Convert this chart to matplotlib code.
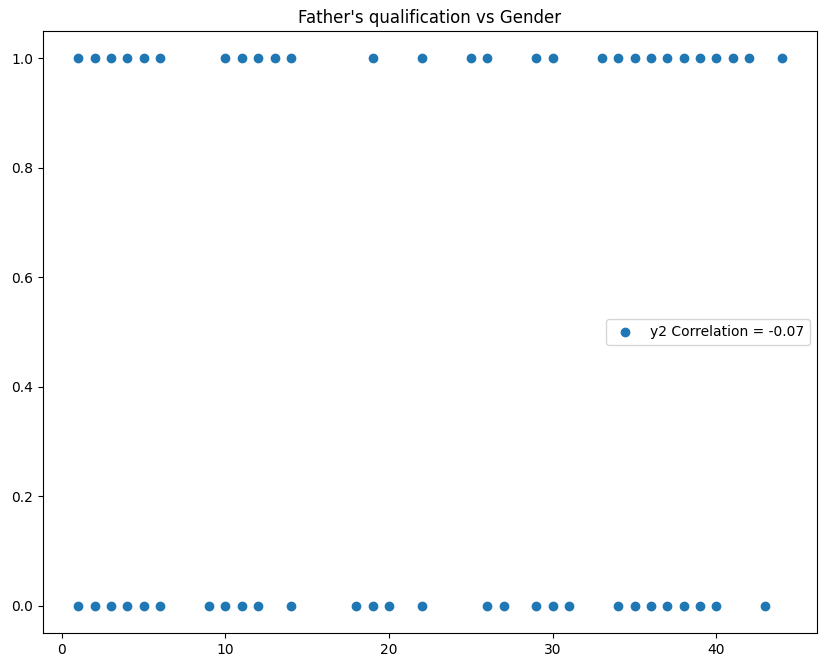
import matplotlib
matplotlib.use('Agg')
import matplotlib.pyplot as plt

# father's qualification codes observed for each gender
qual_gender1 = [1, 2, 3, 4, 5, 6, 10, 11, 12, 13, 14, 19, 22, 25, 26, 29, 30,
                33, 34, 35, 36, 37, 38, 39, 40, 41, 42, 44]
qual_gender0 = [1, 2, 3, 4, 5, 6, 9, 10, 11, 12, 14, 18, 19, 20, 22, 26, 27,
                29, 30, 31, 34, 35, 36, 37, 38, 39, 40, 43]

x = qual_gender1 + qual_gender0
y = [1] * len(qual_gender1) + [0] * len(qual_gender0)

fig = plt.figure(figsize=(8.26, 6.68), dpi=100)
ax = fig.add_axes([43 / 826, 1 - 633 / 668, 774 / 826, 602 / 668])
ax.scatter(x, y, label='y2 Correlation = -0.07')
ax.set_title("Father's qualification vs Gender")
ax.legend(loc='center right')
fig.savefig('out.png', dpi=100)
